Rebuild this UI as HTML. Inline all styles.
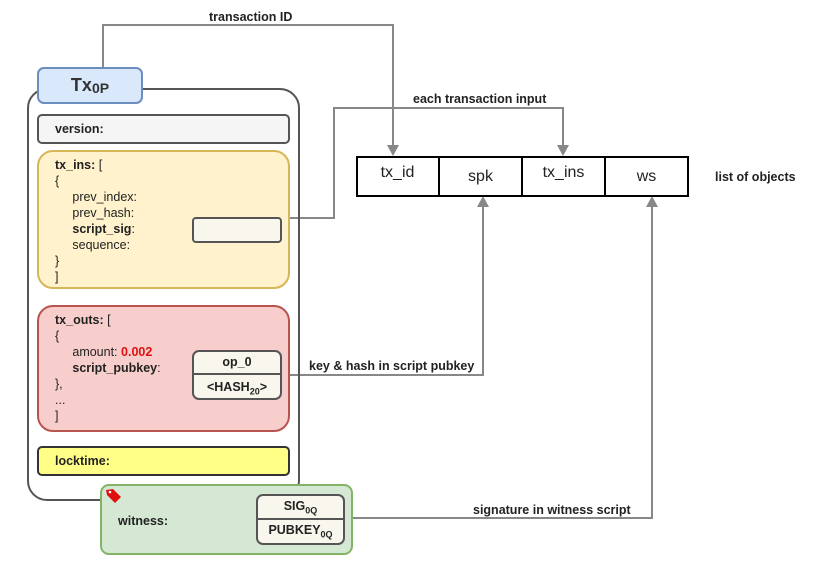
<!DOCTYPE html>
<html><head><meta charset="utf-8"><style>
body{margin:0;width:820px;height:564px;background:#fff;overflow:hidden;position:relative;font-family:"Liberation Sans",Arial,sans-serif;color:#222}
.a{position:absolute;box-sizing:border-box}
.t{position:absolute;font-size:12.5px;line-height:16px}
b{font-weight:bold}
</style></head><body>
<svg class="a" style="left:0;top:0" width="820" height="564">
<g fill="none" stroke="#888" stroke-width="2">
<polyline points="103,68 103,25 393,25 393,148"/>
<polyline points="281,218 334,218 334,108 563,108 563,148"/>
<polyline points="281,375 483,375 483,204"/>
<polyline points="344,518 652,518 652,204"/>
</g>
<path d="M387,145 L399,145 L393,156 Z" fill="#888"/>
<path d="M557,145 L569,145 L563,156 Z" fill="#888"/>
<path d="M477,207 L489,207 L483,196 Z" fill="#888"/>
<path d="M646,207 L658,207 L652,196 Z" fill="#888"/>
</svg>
<div class="a" style="left:27px;top:88px;width:273px;height:413px;border:2px solid #555;border-radius:20px"></div>
<div class="a" style="left:37px;top:67px;width:106px;height:37px;background:#dae8fc;border:2px solid #6c8ebf;border-radius:7px;text-align:center;font-size:18px;font-weight:bold;line-height:33px;color:#333">Tx<span style="font-size:14px;position:relative;top:2px">0P</span></div>
<div class="a" style="left:37px;top:114px;width:253px;height:30px;background:#f5f5f5;border:2px solid #555;border-radius:5px"></div>
<div class="t" style="left:55px;top:121px"><b>version:</b></div>
<div class="a" style="left:37px;top:150px;width:253px;height:139px;background:#fff2cc;border:2px solid #d6b656;border-radius:16px"></div>
<div class="t" style="left:55px;top:157px;line-height:16px"><b>tx_ins:</b> [<br>{<br>&nbsp;&nbsp;&nbsp;&nbsp;&nbsp;prev_index:<br>&nbsp;&nbsp;&nbsp;&nbsp;&nbsp;prev_hash:<br>&nbsp;&nbsp;&nbsp;&nbsp;&nbsp;<b>script_sig</b>:<br>&nbsp;&nbsp;&nbsp;&nbsp;&nbsp;sequence:<br>}<br>]</div>
<div class="a" style="left:192px;top:217px;width:90px;height:26px;background:#f9f7ed;border:2px solid #555;border-radius:4px"></div>
<div class="a" style="left:37px;top:305px;width:253px;height:127px;background:#f8cecc;border:2px solid #b85450;border-radius:16px"></div>
<div class="t" style="left:55px;top:312px"><b>tx_outs:</b> [<br>{<br>&nbsp;&nbsp;&nbsp;&nbsp;&nbsp;amount: <b style="color:#e01010">0.002</b><br>&nbsp;&nbsp;&nbsp;&nbsp;&nbsp;<b>script_pubkey</b>:<br>},<br>...<br>]</div>
<div class="a" style="left:192px;top:350px;width:90px;height:50px;background:#f9f7ed;border:2px solid #555;border-radius:7px"></div>
<div class="a" style="left:192px;top:373px;width:90px;height:2px;background:#555"></div>
<div class="t" style="left:192px;top:354px;width:90px;text-align:center"><b>op_0</b></div>
<div class="t" style="left:192px;top:379px;width:90px;text-align:center"><b>&lt;HASH<sub style="font-size:9px">20</sub>&gt;</b></div>
<div class="a" style="left:37px;top:446px;width:253px;height:30px;background:#ffff88;border:2px solid #333;border-radius:5px"></div>
<div class="t" style="left:55px;top:453px"><b>locktime:</b></div>
<div class="a" style="left:100px;top:484px;width:253px;height:71px;background:#d5e8d4;border:2px solid #82b366;border-radius:9px"></div>
<svg class="a" style="left:104px;top:487px" width="20" height="18"><path d="M2,3 L9,2 L17,10 L11,16 L3,8 Z" fill="#e01010"/><circle cx="6" cy="5" r="1.3" fill="#fff"/></svg>
<div class="t" style="left:118px;top:513px"><b>witness:</b></div>
<div class="a" style="left:256px;top:494px;width:89px;height:51px;background:#f9f7ed;border:2px solid #555;border-radius:7px"></div>
<div class="a" style="left:256px;top:518px;width:89px;height:2px;background:#555"></div>
<div class="t" style="left:256px;top:498px;width:89px;text-align:center"><b>SIG<sub style="font-size:9px">0Q</sub></b></div>
<div class="t" style="left:256px;top:522px;width:89px;text-align:center"><b>PUBKEY<sub style="font-size:9px">0Q</sub></b></div>
<div class="a" style="left:356px;top:156px;width:333px;height:41px;border:2px solid #000"></div>
<div class="a" style="left:438px;top:156px;width:2px;height:41px;background:#000"></div>
<div class="a" style="left:521px;top:156px;width:2px;height:41px;background:#000"></div>
<div class="a" style="left:604px;top:156px;width:2px;height:41px;background:#000"></div>
<div class="t" style="left:356px;top:164px;width:83px;text-align:center;font-size:16px;line-height:18px">tx_id</div>
<div class="t" style="left:439px;top:168px;width:83px;text-align:center;font-size:16px;line-height:18px">spk</div>
<div class="t" style="left:522px;top:164px;width:83px;text-align:center;font-size:16px;line-height:18px">tx_ins</div>
<div class="t" style="left:605px;top:168px;width:83px;text-align:center;font-size:16px;line-height:18px">ws</div>
<div class="t" style="left:715px;top:169px"><b>list of objects</b></div>
<div class="t" style="left:209px;top:9px"><b>transaction ID</b></div>
<div class="t" style="left:413px;top:91px"><b>each transaction input</b></div>
<div class="t" style="left:309px;top:358px"><b>key &amp; hash in script pubkey</b></div>
<div class="t" style="left:473px;top:502px"><b>signature in witness script</b></div>
</body></html>
